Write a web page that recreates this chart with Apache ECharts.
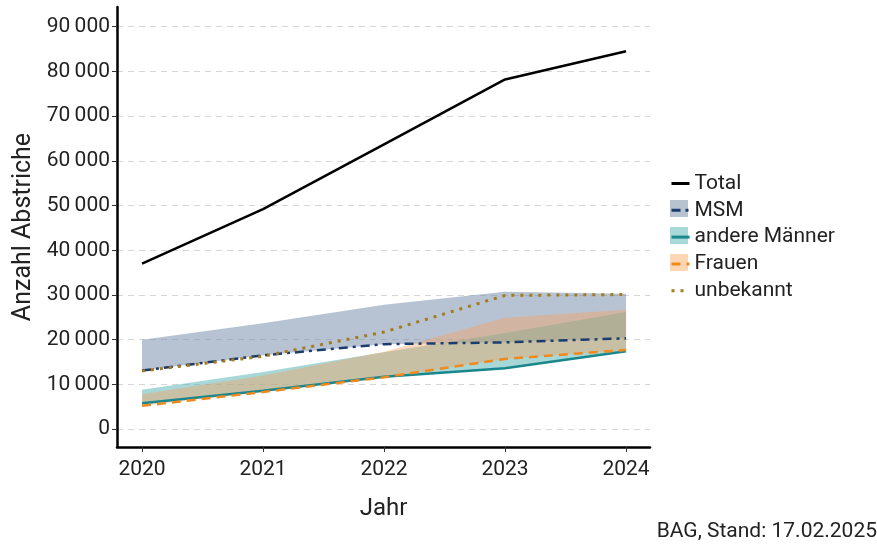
<!DOCTYPE html>
<html>
<head>
<meta charset="utf-8">
<script src="https://cdn.jsdelivr.net/npm/echarts@6/dist/echarts.min.js"></script>
<style>
html,body{margin:0;padding:0;background:#fff;}
#chart{width:877px;height:547px;}
</style>
</head>
<body>
<div id="chart"></div>
<script>
// ---- data ----
const years = [2020, 2021, 2022, 2023, 2024];
const total = [37000, 49200, 63700, 78200, 84500];
const msm = [13100, 16500, 19000, 19400, 20300];
const msmUpper = [20000, 23700, 27800, 30700, 30300];
const andereMaenner = [5800, 8600, 11700, 13600, 17400];
const andereMaennerUpper = [8800, 12800, 17200, 21500, 26200];
const frauen = [5200, 8300, 11600, 15700, 17700];
const frauenUpper = [7800, 12000, 17300, 24900, 26700];
const unbekannt = [13000, 16300, 21700, 29900, 30100];
const yTicks = [0, 10000, 20000, 30000, 40000, 50000, 60000, 70000, 80000, 90000];
const seriesNames = ['Total', 'MSM', 'andere Männer', 'Frauen', 'unbekannt'];
const caption = 'BAG, Stand: 17.02.2025';

const FONT = 'Roboto, "Noto Sans", sans-serif';
const pts = arr => years.map((y, i) => [y, arr[i]]);

function band(name, lower, upper, color, opacity) {
  return {
    name: name, type: 'custom', silent: true, z: 1,
    data: years.map((y, i) => [y, lower[i], upper[i]]),
    encode: { x: 0, y: [1, 2] },
    renderItem: (params, api) => {
      if (params.dataIndex !== 0) return null;
      const top = years.map((y, i) => api.coord([y, upper[i]]));
      const bot = years.map((y, i) => api.coord([y, lower[i]])).reverse();
      return { type: 'polygon', shape: { points: top.concat(bot) }, style: { fill: color, opacity: opacity } };
    }
  };
}

const chart = echarts.init(document.getElementById('chart'), null, { renderer: 'canvas' });
const fmt = v => String(v).replace(/\B(?=(\d{3})+(?!\d))/g, '\u2009');

const option = {
  animation: false,
  textStyle: { fontFamily: FONT },
  title: {
    text: caption, right: 0, top: 521, padding: 0,
    textStyle: { fontFamily: FONT, fontSize: 21, fontWeight: 'normal', color: '#222' }
  },
  grid: { left: 117, right: 227, top: 7, bottom: 100, containLabel: false, outerBoundsMode: 'none' },
  xAxis: {
    type: 'value', min: 2019.793, max: 2024.198,
    name: 'Jahr', nameLocation: 'middle', nameGap: 50,
    nameTextStyle: { fontSize: 24, color: '#222', fontFamily: FONT },
    axisLine: { show: true, onZero: false, lineStyle: { color: '#000', width: 2.5 } },
    axisTick: { show: true, length: 5, lineStyle: { color: '#333', width: 1 }, customValues: years },
    axisLabel: { fontSize: 21, color: '#222', margin: 12, fontFamily: FONT, customValues: years,
      formatter: v => String(v) },
    splitLine: { show: false }
  },
  yAxis: {
    type: 'value', min: -4000, max: 94400,
    name: 'Anzahl Abstriche', nameLocation: 'middle', nameGap: 80,
    nameTextStyle: { fontSize: 25, color: '#222', fontFamily: FONT },
    axisLine: { show: true, onZero: false, lineStyle: { color: '#000', width: 2.5 } },
    axisTick: { show: true, length: 5, lineStyle: { color: '#333', width: 1 }, customValues: yTicks },
    axisLabel: { fontSize: 21, color: '#222', margin: 7, fontFamily: FONT, customValues: yTicks,
      formatter: v => fmt(v) },
    splitLine: { show: true, lineStyle: { color: '#d6d6d6', width: 1, type: [6, 5] } }
  },
  legend: {
    data: seriesNames, orient: 'vertical', left: 670, top: 173, padding: 0,
    itemWidth: 18, itemHeight: 18, itemGap: 5.8, itemTextGap: 9,
    textStyle: { fontSize: 21, color: '#222', fontFamily: FONT, lineHeight: 20 },
    itemStyle: { opacity: 0 },
    lineStyle: { width: 3 },
    selectedMode: false
  },
  graphic: [
    { type: 'rect', left: 670, top: 200, shape: { width: 18, height: 17 }, style: { fill: '#b8c3d0' }, z: 0 },
    { type: 'rect', left: 670, top: 227, shape: { width: 18, height: 17 }, style: { fill: '#a9d8d8' }, z: 0 },
    { type: 'rect', left: 670, top: 254, shape: { width: 18, height: 17 }, style: { fill: '#fdd6b4' }, z: 0 }
  ],
  series: [
    band('MSM band', msm, msmUpper, '#7088a5', 0.5),
    band('andere Männer band', andereMaenner, andereMaennerUpper, '#50afaf', 0.5),
    band('Frauen band', frauen, frauenUpper, '#faa05a', 0.4),
    { name: 'Total', type: 'line', data: pts(total), symbol: 'none', z: 5,
      lineStyle: { color: '#000', width: 2.5 }, itemStyle: { color: '#000' } },
    { name: 'MSM', type: 'line', data: pts(msm), symbol: 'none', z: 5,
      lineStyle: { color: '#1d3c6e', width: 2.5, type: [9, 5, 3, 5] }, itemStyle: { color: '#1d3c6e' } },
    { name: 'andere Männer', type: 'line', data: pts(andereMaenner), symbol: 'none', z: 5,
      lineStyle: { color: '#1a878c', width: 2.5 }, itemStyle: { color: '#1a878c' } },
    { name: 'Frauen', type: 'line', data: pts(frauen), symbol: 'none', z: 5,
      lineStyle: { color: '#f0891e', width: 2.5, type: [9, 6] }, itemStyle: { color: '#f0891e' } },
    { name: 'unbekannt', type: 'line', data: pts(unbekannt), symbol: 'none', z: 5,
      lineStyle: { color: '#a47c1c', width: 3, type: [3, 6] }, itemStyle: { color: '#a47c1c' } }
  ]
};
chart.setOption(option);
</script>
</body>
</html>
